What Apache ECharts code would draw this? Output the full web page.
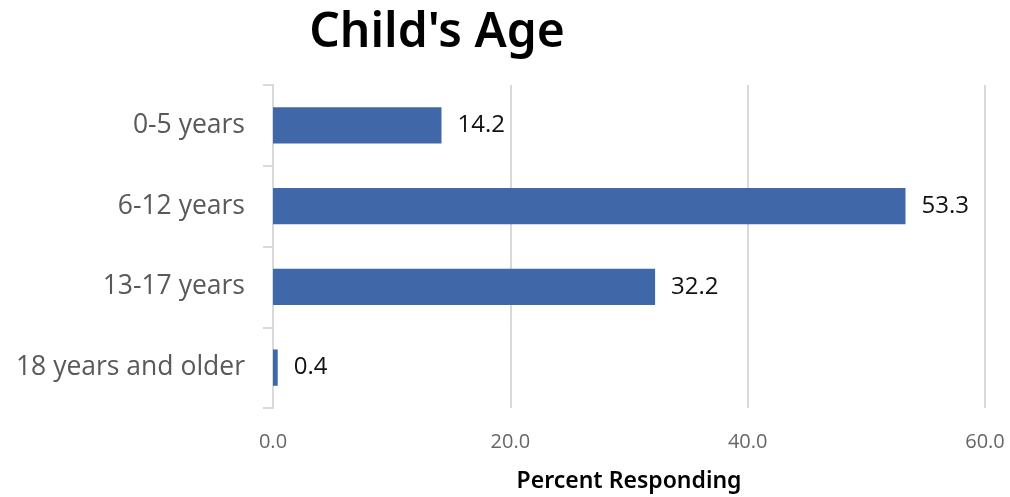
<!DOCTYPE html>
<html>
<head>
<meta charset="utf-8">
<script src="https://cdn.jsdelivr.net/npm/echarts@6/dist/echarts.min.js"></script>
<style>
  html, body { margin: 0; padding: 0; background: #fff; }
  #chart { width: 1010px; height: 497px; }
</style>
</head>
<body>
<div id="chart"></div>
<script>
// Age groups of the child and the share of respondents in each
const categories = ['0-5 years', '6-12 years', '13-17 years', '18 years and older'];
const percentValues = [14.2, 53.3, 32.2, 0.4];
const axisMin = 0;
const axisMax = 60;
const axisStep = 20;

const chart = echarts.init(document.getElementById('chart'));

chart.setOption({
  animation: false,
  title: {
    text: "Child's Age",
    left: 432,
    top: 4,
    textAlign: 'center',
    textStyle: {
      fontFamily: '"Noto Sans", sans-serif',
      fontSize: 48,
      fontWeight: 600,
      color: '#000'
    }
  },
  grid: {
    left: 273,
    right: 25,
    top: 85,
    bottom: 89,
    containLabel: false,
    outerBoundsMode: 'none'
  },
  xAxis: {
    type: 'value',
    min: axisMin,
    max: axisMax,
    interval: axisStep,
    name: 'Percent Responding',
    nameLocation: 'middle',
    nameGap: 62,
    nameTextStyle: {
      fontFamily: '"Noto Sans", sans-serif',
      fontSize: 23,
      fontWeight: 600,
      color: '#000'
    },
    axisLine: { show: false },
    axisTick: { show: false },
    axisLabel: {
      margin: 24,
      fontFamily: '"Open Sans", sans-serif',
      fontSize: 20,
      color: '#666',
      formatter: v => v.toFixed(1)
    },
    splitLine: { show: true, lineStyle: { color: '#d9d9d9', width: 2 } }
  },
  yAxis: {
    type: 'category',
    data: categories,
    inverse: true,
    axisLine: { show: true, lineStyle: { color: '#d9d9d9', width: 2 } },
    axisTick: { show: true, length: 10, lineStyle: { color: '#d9d9d9', width: 2 } },
    axisLabel: {
      margin: 28,
      fontFamily: '"Open Sans", sans-serif',
      fontSize: 26.5,
      color: '#595959'
    },
    splitLine: { show: false }
  },
  series: [{
    type: 'bar',
    data: percentValues,
    barCategoryGap: '55%',
    itemStyle: { color: '#4068a9' },
    label: {
      show: true,
      position: 'right',
      distance: 16,
      fontFamily: '"Open Sans", sans-serif',
      fontSize: 24,
      color: '#111',
      formatter: p => p.value.toFixed(1)
    }
  }]
});
</script>
</body>
</html>
